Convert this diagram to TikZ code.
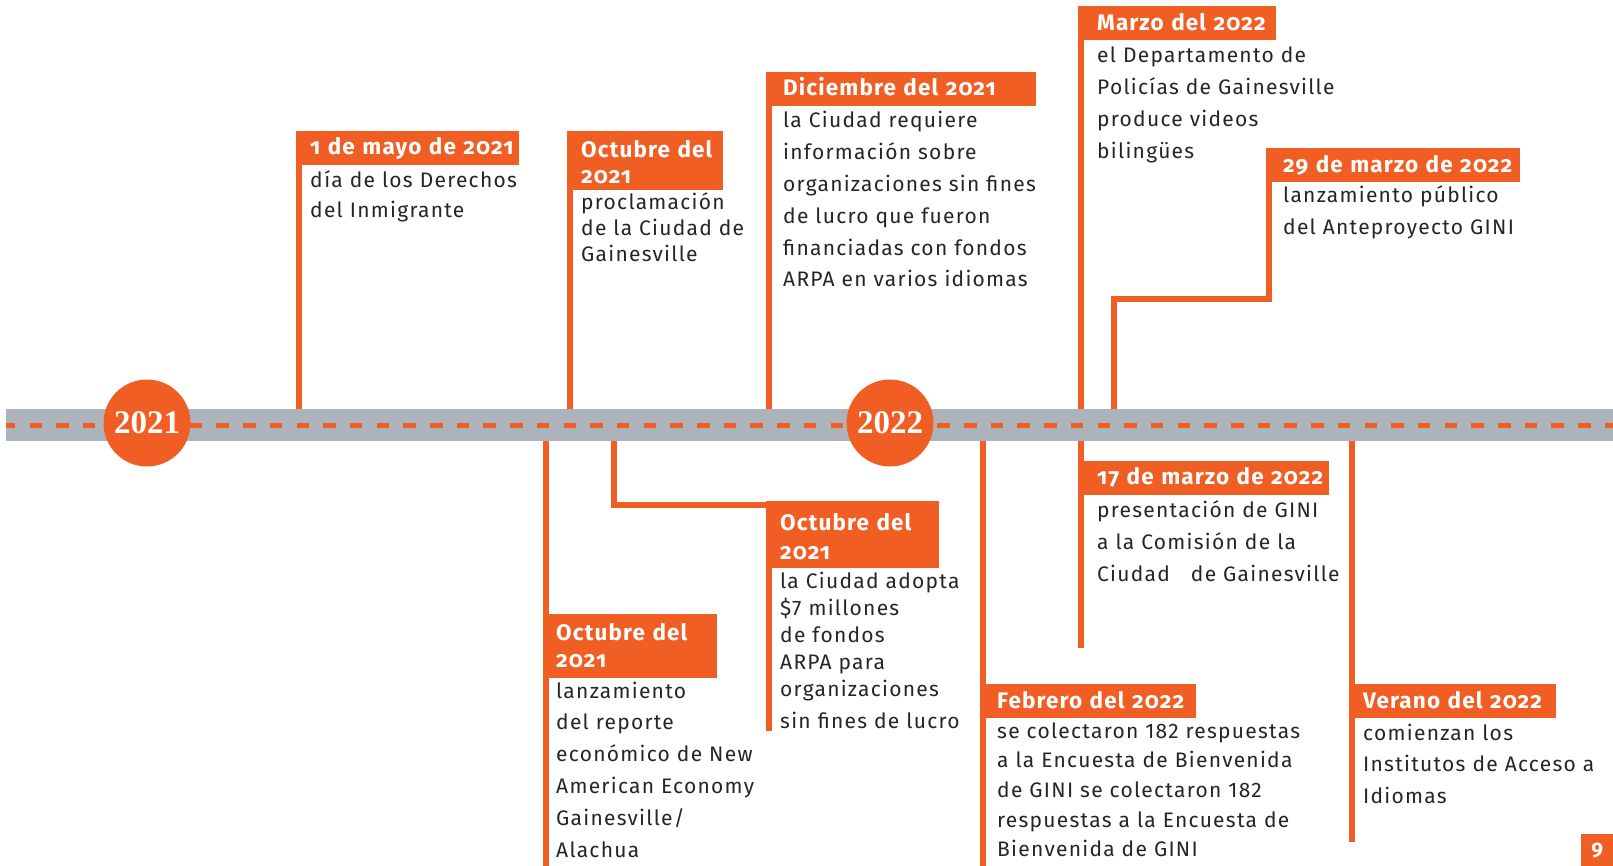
\documentclass[tikz,border=0pt]{standalone}
\usepackage{fontspec}
\usepackage{tikz}
\usetikzlibrary{calc,positioning}
\usepackage{color}
\definecolor{tlorange}{RGB}{241,94,36}
\definecolor{tlgray}{RGB}{173,179,186}
\definecolor{tlink}{RGB}{38,36,38}
\newfontfamily\bodyfam{Fira Sans}[LetterSpace=6]
\newfontfamily\headfam{Fira Sans}[Numbers=OldStyle,LetterSpace=5]
\newfontfamily\yearfam{Liberation Serif}
\tikzset{
band/.style={fill=tlgray, minimum width=1607pt, minimum height=32pt, inner sep=0pt}, % grey timeline bar
dashes/.style={draw=tlorange, line width=5pt, dash pattern=on 12.5pt off 14.2pt, dash phase=3pt},
year/.style={circle, fill=tlorange, text=white, minimum size=87pt, inner sep=0pt, font=\yearfam\bfseries\fontsize{33}{33}\selectfont},
stem/.style={draw=tlorange, line width=6pt}, % orange rules
head/.style args={#1 and #2}{fill=tlorange, text=white, anchor=north west, inner sep=0pt, align=left, text width=#1, text height=23pt, text depth=11pt, font=\headfam\bfseries\fontsize{22.5}{26}\selectfont, execute at begin node={\leftskip=#2\relax}},
body/.style args={#1 and #2}{anchor=base west, inner sep=0pt, align=left, text width=#1, text=tlink, font=\bodyfam\fontsize{21}{#2}\selectfont},
pagebox/.style={anchor=north west, fill=tlorange, text=white, minimum width=32pt, minimum height=32pt, inner sep=0pt, font=\bodyfam\bfseries\fontsize{21}{21}\selectfont},
}

\begin{document}
\begin{tikzpicture}[x=1pt,y=1pt,yscale=-1]
\useasboundingbox (0,0) rectangle (1613,866);
%Timeline
\node[band] (band) at (809.5,425) {};
\draw[dashes] (band.west) -- (band.east);
\node[year] (yeara) at (147,423) {2021};
\node[year] (yearb) at (890,423) {2022};
%Heading boxes
\node[head={223pt and 14pt}] (may) at (296,131) {1 de mayo de 2021};
\node[head={156pt and 14pt}, text height=26pt, text depth=33pt] (octa) at (567,131) {Octubre del\\2021};
\node[head={270pt and 17pt}] (dic) at (766,72) {Diciembre del 2021};
\node[head={198pt and 19pt}, text height=24pt, text depth=10pt] (mar) at (1078,6) {Marzo del 2022};
\node[head={254pt and 17pt}, text height=24pt, text depth=10pt] (marb) at (1266,148) {29 de marzo de 2022};
\node[head={174pt and 13pt}, text height=26pt, text depth=38pt] (octb) at (543,614) {Octubre del\\[1pt]2021};
\node[head={173pt and 14pt}, text height=29pt, text depth=38pt] (octc) at (766,501) {Octubre del\\[3pt]2021};
\node[head={216pt and 17pt}, text height=24pt, text depth=10pt] (feb) at (980,684) {Febrero del 2022};
\node[head={251pt and 19pt}] (marc) at (1078,461) {17 de marzo de 2022};
\node[head={207pt and 14pt}, text height=24pt, text depth=10pt] (ver) at (1349,684) {Verano del 2022};
\node[pagebox] (pnum) at (1581,834) {9};
%Texts
\node[body={225pt and 30pt}] (maytxt) at (310,188) {día de los Derechos\\del Inmigrante};
\node[body={180pt and 26pt}] (octatxt) at (581,210) {proclamación\\de la Ciudad de\\Gainesville};
\node[body={285pt and 31.8pt}] (dictxt) at (783,128) {la Ciudad requiere\\información sobre\\organizaciones sin fines\\de lucro que fueron\\financiadas con fondos\\ARPA en varios idiomas};
\node[body={250pt and 31.7pt}] (martxt) at (1097,63) {el Departamento de\\Policías de Gainesville\\produce videos\\bilingües};
\node[body={270pt and 32pt}] (marbtxt) at (1283,203) {lanzamiento público\\del Anteproyecto GINI};
\node[body={220pt and 31.8pt}] (octbtxt) at (556,698) {lanzamiento\\del reporte\\económico de New\\American Economy\\Gainesville/\\Alachua};
\node[body={195pt and 27pt}] (octctxt) at (780,588) {la Ciudad adopta\\\$7 millones\\de fondos\\ARPA para\\organizaciones\\[5pt]sin fines de lucro};
\node[body={340pt and 29.7pt}] (febtxt) at (997,738) {se colectaron 182 respuestas\\a la Encuesta de Bienvenida\\de GINI se colectaron 182\\respuestas a la Encuesta de\\Bienvenida de GINI};
\node[body={250pt and 32pt}] (marctxt) at (1097,517) {presentación de GINI\\a la Comisión de la\\Ciudad\quad de Gainesville};
\node[body={245pt and 31.5pt}] (vertxt) at (1363,740) {comienzan los\\Institutos de Acceso a\\Idiomas};
%Free ends of the rules
\coordinate (marbknee) at (1114,299);
\coordinate (marcend) at (1081,648);
\coordinate (octbend) at (546,866);
\coordinate (octcknee) at (614,504.5);
\coordinate (octcend) at (769,731);
\coordinate (febend) at (983,866);
\coordinate (verend) at (1352,842);
%Rules above the band
\draw[stem] ([xshift=3pt]may.north west) -- ([xshift=3pt]may.north west |- band.north);
\draw[stem] ([xshift=3pt]octa.north west) -- ([xshift=3pt]octa.north west |- band.north);
\draw[stem] ([xshift=3pt]dic.north west) -- ([xshift=3pt]dic.north west |- band.north);
\draw[stem] ([xshift=3pt]mar.north west) -- ([xshift=3pt]mar.north west |- band.north);
\draw[stem] ([xshift=3pt]marb.north west) |- (marbknee) -- (marbknee |- band.north);
%Rules below the band
\draw[stem] (marcend |- band.south) -- (marcend);
\draw[stem] (octbend |- band.south) -- (octbend);
\draw[stem] (octcknee |- band.south) -- (octcknee) -- (octcknee -| octc.west);
\draw[stem] ([xshift=3pt]octc.north west) -- (octcend);
\draw[stem] (febend |- band.south) -- (febend);
\draw[stem] (verend |- band.south) -- (verend);
\end{tikzpicture}
\end{document}
